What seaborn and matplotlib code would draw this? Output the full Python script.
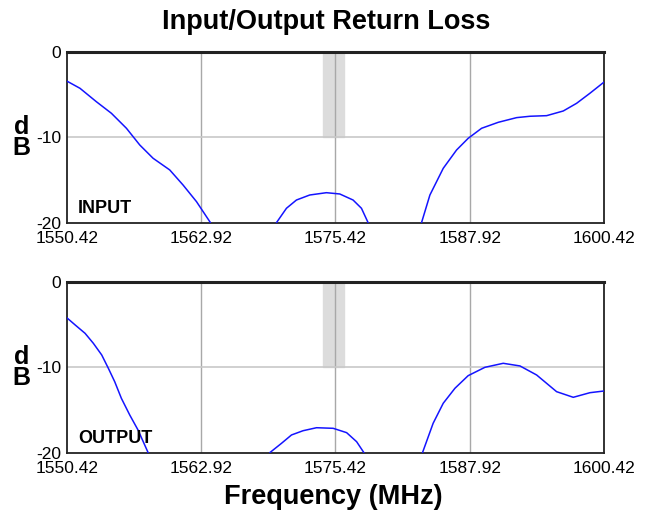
import numpy as np
import pandas as pd
import seaborn as sns
import matplotlib.pyplot as plt

# return loss traces, split into the visible pieces
input_freq = [
    [1550.42, 1551.66, 1553.18, 1554.58, 1555.98, 1557.22, 1558.46, 1560.01, 1561.25, 1562.5, 1563.8],
    [1569.94, 1570.87, 1571.80, 1573.04, 1574.59, 1575.83, 1577.07, 1577.85, 1578.47],
    [1583.44, 1584.22, 1585.46, 1586.70, 1587.78, 1589.03, 1590.58, 1592.29, 1593.53, 1595.08,
     1596.63, 1597.87, 1599.11, 1600.42],
]
input_db = [
    [-3.37, -4.23, -5.8, -7.16, -8.92, -10.88, -12.44, -13.81, -15.58, -17.53, -20.0],
    [-20.0, -18.31, -17.34, -16.75, -16.48, -16.63, -17.34, -18.31, -20.0],
    [-20.0, -16.75, -13.62, -11.47, -10.1, -8.92, -8.22, -7.67, -7.51, -7.44,
     -6.89, -5.99, -4.81, -3.5],
]
output_freq = [
    [1550.42, 1551.2, 1552.13, 1552.9, 1553.68, 1554.3, 1554.89, 1555.51, 1556.29, 1557.06, 1558.0],
    [1569.32, 1570.41, 1571.34, 1572.42, 1573.67, 1575.22, 1576.47, 1577.40, 1578.08],
    [1583.53, 1584.52, 1585.46, 1586.55, 1587.78, 1589.34, 1591.04, 1592.6, 1594.15, 1596.01,
     1597.56, 1599.11, 1600.42],
]
output_db = [
    [-4.15, -5.0, -5.99, -7.16, -8.53, -10.1, -11.67, -13.62, -15.58, -17.34, -20.0],
    [-20.0, -18.9, -17.92, -17.42, -17.07, -17.14, -17.65, -18.71, -20.0],
    [-20.0, -16.55, -14.2, -12.44, -10.96, -9.98, -9.51, -9.82, -10.88, -12.84,
     -13.5, -12.96, -12.76],
]

xticks = [1550.42, 1562.92, 1575.42, 1587.92, 1600.42]
yticks = [-20, -10, 0]
band = (1574.3, 1576.25)

sns.set_theme(style="white")
plt.rcParams["font.family"] = ["Liberation Sans", "DejaVu Sans"]
plt.rcParams["text.color"] = "black"


def to_frame(freqs, dbs):
    rows = []
    for i, (f, d) in enumerate(zip(freqs, dbs)):
        for a, b in zip(f, d):
            rows.append({"freq": a, "db": b, "seg": i})
    return pd.DataFrame(rows)


fig = plt.figure(figsize=(6.48, 5.15), dpi=100)
ax1 = fig.add_axes([0.1029, 0.5676, 0.8292, 0.3309])
ax2 = fig.add_axes([0.1029, 0.1210, 0.8292, 0.3309])

for ax, freqs, dbs, name in [(ax1, input_freq, input_db, "INPUT"),
                             (ax2, output_freq, output_db, "OUTPUT")]:
    ax.axvspan(band[0], band[1], ymin=0.5, ymax=1, color="#dcdcdc", zorder=0)
    for x in xticks[1:-1]:
        ax.axvline(x, color="#a8a8a8", lw=1, zorder=1)
    ax.axhline(-10, color="#c8c8c8", lw=1.2, zorder=1)
    sns.lineplot(data=to_frame(freqs, dbs), x="freq", y="db", units="seg",
                 estimator=None, color="#1414ff", lw=1.1, ax=ax, zorder=3)
    ax.set_xlim(xticks[0], xticks[-1])
    ax.set_ylim(-20, 0)
    ax.set_xticks(xticks)
    ax.set_xticklabels([f"{x:.2f}" for x in xticks])
    ax.set_yticks(yticks)
    ax.set_yticklabels([str(y) for y in yticks])
    ax.tick_params(axis="x", length=0, labelsize=12.5, pad=6, colors="black")
    ax.tick_params(axis="y", length=0, labelsize=12.5, pad=4, colors="black")
    ax.set_xlabel("")
    ax.set_ylabel("")
    for s in ax.spines.values():
        s.set_color("#222222")
        s.set_linewidth(1.3)
    ax.spines["top"].set_linewidth(2.2)
    ax.text(0.021, 0.035, name, transform=ax.transAxes, fontsize=13,
            fontweight="bold", ha="left", va="bottom", color="black")
    pos = ax.get_position()
    fig.text(0.033, (pos.y0 + pos.y1) / 2, "d\nB", fontsize=18, color="black",
             fontweight="bold", ha="center", va="center", linespacing=0.85)

fig.text(0.503, 0.957, "Input/Output Return Loss", fontsize=19.5, fontweight="bold",
         ha="center", va="center", color="black")
fig.text(0.514, 0.035, "Frequency (MHz)", fontsize=19.5, fontweight="bold",
         ha="center", va="center", color="black")

fig.savefig("out.png", dpi=100)
